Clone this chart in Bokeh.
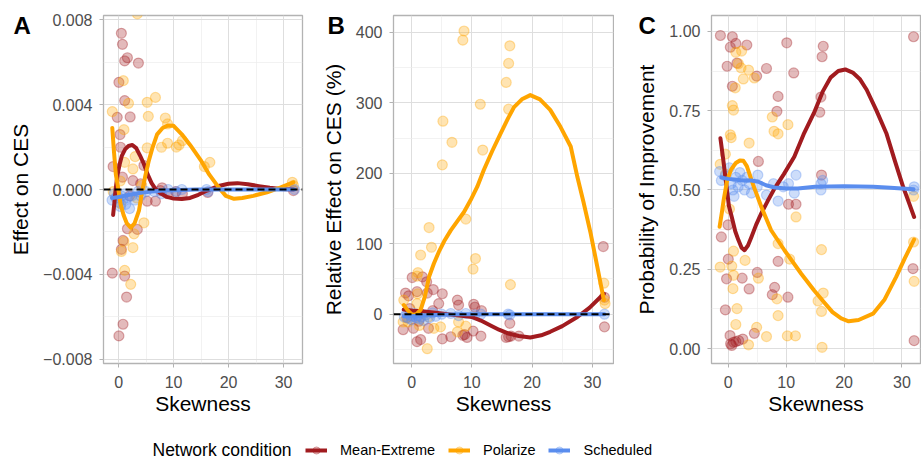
from bokeh.plotting import figure
from bokeh.models import Range1d, FixedTicker, Label, Legend, LegendItem, Span
from bokeh.layouts import column, row
from bokeh.embed import file_html
from bokeh.resources import INLINE

FONT = "Liberation Sans"
C_ME = "#A11B1F"
C_PO = "#FFA500"
C_SC = "#5A8DEE"
NAN = float("nan")

# ---------------- Panel A: Effect on CES ----------------
a_me_x = [0.5, 0.7, 1.6, 1.1, 3.6, 0.05, 1.1, -0.25, 2.1, 0.25, 0.35, -1.0, 4.6, 0.7, 2.6, 7.9, 4.0, 5.2, 6.7,
          1.6, 3.4, 0.5, 0.8, -1.15, 1.1, 1.45, 0.8, 0.05, 7.6, 8.9, 11.6, 16.2, 31.8, 10.4, 2.0]
a_me_y = [0.00736, 0.00684, 0.00621, 0.00606, 0.00596, 0.00505, 0.00419, 0.0034, 0.00342, 0.00259, 0.00199,
          0.00108, 0.00113, 0.00058, 0.00042, 0.00008, 0.00027, -0.00055, -0.00055, -0.00185, -0.00188,
          -0.00282, -0.0024, -0.00394, -0.00408, -0.00507, -0.00635, -0.0069, -0.00005, -0.0002, -0.0002,
          -0.00014, -0.00005, -0.0001, -0.0003]
a_po_x = [3.4, 0.85, 1.8, -1.15, 5.2, 6.7, 5.4, 8.5, 8.9, 0.97, 3.0, 5.2, 7.8, 8.9, 10.5, 11.6, 11.0, 2.6, 1.1,
          15.6, 16.6, 31.6, 31.8, 4.6, 2.8, 0.97, 0.5, 2.6, 1.1, 2.2, 0.36, -1.0, 3.3, 0.3, 4.2]
a_po_y = [0.00828, 0.00513, 0.00406, 0.00367, 0.00411, 0.00434, 0.00345, 0.00337, 0.00309, 0.00282, 0.00155,
          0.00196, 0.00199, 0.00218, 0.0020, 0.0023, 0.0021, 0.00097, 0.00128, 0.00108, 0.00128, 0.00034,
          0.00019, -0.00157, -0.00209, -0.00245, -0.00292, -0.00274, -0.00381, -0.00447, -0.00067, -0.0001,
          -0.0004, 0.0004, 0.0002]
a_sc_x = [-1.2, -0.8, -0.5, -0.2, 0.0, 0.3, 0.5, 0.8, 1.0, 1.3, 1.6, 2.0, 2.4, 3.0, 3.5, 4.0, 5.0, 6.5, 7.8,
          9.0, 10.5, 11.5, 16.0, 16.3, 32.0]
a_sc_y = [-0.0005, -0.0002, -0.0004, -0.0003, -0.0006, -0.0008, -0.0003, -0.0005, -0.0002, -0.0007, -0.0004,
          -0.0009, -0.0003, -0.0005, -0.0001, -0.0003, -0.0001, -0.0001, -0.0002, 0.0, -0.0001, 0.0, 0.0,
          -0.0001, 0.0]
a_me_sx = [-1.0, -0.8, -0.55, -0.2, 0.2, 0.6, 1.2, 1.8, 2.5, 3.2, 3.9, 4.6, 5.3, 6.0, 6.7, 7.6, 8.8, 10.0,
           11.5, 13.0, 14.5, 16.1, 18.0, 20.0, 21.6, 23.5, 25.5, 27.5, 29.5, 31.8]
a_me_sy = [-0.0012, -0.0007, 0.0, 0.0007, 0.0012, 0.0016, 0.0019, 0.00205, 0.0021, 0.00195, 0.0016, 0.0012,
           0.0007, 0.0003, 0.00003, -0.00018, -0.00035, -0.00043, -0.00045, -0.0004, -0.00025, -0.00005,
           0.00015, 0.00027, 0.0003, 0.00025, 0.00016, 0.00008, 0.00002, 0.0]
a_po_sx = [-1.15, -0.85, -0.5, -0.1, 0.36, 0.9, 1.5, 2.2, 2.9, 3.7, 4.3, 4.9, 5.5, 6.2, 7.0, 8.0, 9.0, 10.0,
           11.5, 13.0, 14.9, 16.5, 18.2, 19.5, 21.0, 22.5, 24.5, 27.0, 29.5, 31.8]
a_po_sy = [0.0029, 0.0018, 0.0007, 0.0001, -0.0007, -0.0012, -0.0016, -0.0018, -0.0016, -0.001, -0.00005,
           0.0007, 0.00136, 0.002, 0.0026, 0.0029, 0.00302, 0.0030, 0.0026, 0.0021, 0.0014, 0.0007, 0.0001,
           -0.0003, -0.00044, -0.0004, -0.0003, -0.00013, 0.0001, 0.00034]
a_sc_sx = [-1.2, 0.0, 1.0, 2.0, 3.0, 4.0, 6.0, 8.0, 10.0, 14.0, 20.0, 26.0, 32.0]
a_sc_sy = [-0.0004, -0.00035, -0.0003, -0.00025, -0.0002, -0.00015, -0.0001, -0.00005, -0.00003, 0.0, 0.0,
           0.0, 0.0]

# ---------------- Panel B: Relative Effect on CES (%) ----------------
b_me_x = [31.8, 32.0, 32.0, 0.1, 1.8, 2.5, 3.6, 5.1, 7.6, 7.8, 10.3, 10.5, 11.6, 16.3, 16.1, 16.5, 15.7, 17.8,
          5.1, 6.5, 8.5, 8.8, 10.2, 11.5, 0.9, 1.5, -1.4, -1.0, -0.5, 0.9, 2.6, 4.5, 0.3, 9.2, -0.3, 1.2, 2.8,
          3.5, -0.8]
b_me_y = [96, 24, -18, 52, 53, 46, 35, 29, 20, 13, 14, 10, 5, -13, -32, -31, -33, -31, -35, -32, -30, -29,
          -24, -31, -39, -36, -22, 30, 26, 32, 30, 15, -20, -33, 8, -10, -20, 5, -5]
b_po_x = [8.7, 8.5, 16.3, 16.1, 15.7, 11.4, 16.1, 5.2, 6.7, 11.8, 5.1, 9.0, 2.9, 3.3, 1.5, 10.6, 10.2, 1.05,
          0.9, 16.4, 31.9, 32.0, -1.3, 1.0, 7.6, 9.0, 2.6, 3.7, 1.3, -0.6, 2.8, 7.8, 4.8, 0.9, -1.4, 32.1]
b_po_y = [402, 389, 381, 356, 329, 298, 291, 274, 244, 233, 212, 135, 123, 95, 84, 79, 64, 59, 54, 42, 44, 20,
          20, 29, -25, -17, -49, -20, -16, -11, -4, -11, -18, 15, -11, 15]
b_sc_x = [-1.2, -0.8, -0.5, -0.2, 0.0, 0.3, 0.5, 0.8, 1.0, 1.3, 1.6, 2.0, 2.4, 3.0, 3.5, 4.0, 5.0, 6.5, 7.8,
          9.0, 10.5, 11.5, 16.0, 16.3, 32.0]
b_sc_y = [-4, 2, -6, -2, -8, -3, 1, -5, -2, -7, -4, -9, -1, -5, 2, -3, 0, 1, -2, 1, -1, 0, 0, -1, 0]
b_me_sx = [-1.3, 0.2, 2.0, 4.0, 6.0, 8.0, 10.0, 11.5, 13.1, 14.5, 15.9, 17.8, 19.7, 21.5, 23.0, 25.0, 27.5,
           29.5, 31.9]
b_me_sy = [6.6, 5, 4, 2, 0, -2, -4, -9, -16, -22, -27, -31, -33, -30, -25, -17, -4, 9, 29]
b_po_sx = [-1.3, -0.6, 0.1, 0.8, 1.5, 2.2, 2.9, 3.7, 4.5, 5.5, 6.5, 7.6, 8.7, 9.8, 10.9, 12.0, 13.4, 14.8,
           16.0, 17.0, 18.3, 19.7, 21.3, 23.0, 24.7, 26.4, 27.5, 28.5, 29.7, 30.8, 31.9]
b_po_sy = [13, 5, -1, 0, 6, 25, 53, 72, 88, 105, 119, 132, 145, 162, 181, 205, 232, 257, 278, 294, 305, 311,
           305, 290, 266, 238, 195, 160, 115, 68, 20]
b_sc_sx = [-1.3, 0.0, 2.0, 4.0, 8.0, 12.0, 16.0, 20.0, 26.0, 32.0]
b_sc_sy = [-3, -3, -2, -1, 0, 0, 0, 0, 0, 0]

# ---------------- Panel C: Probability of Improvement ----------------
c_me_x = [-1.36, 0.7, 0.35, 1.3, 3.2, -0.2, 1.5, 4.9, 6.6, 10.1, 11.3, 0.7, 8.6, 8.4, 16.4, 16.2, 16.0, 15.8,
          16.1, 5.2, 32.0, 10.4, 11.7, -1.2, -0.05, 0.0, -0.3, 2.4, 5.0, 3.6, 8.6, 8.0, 7.6, 10.3, -0.5, 0.3,
          0.4, 0.9, 1.3, 1.8, 2.5, 0.6, 4.5, 31.9, 32.1]
c_me_y = [0.987, 0.983, 0.95, 0.962, 0.957, 0.89, 0.90, 0.859, 0.883, 0.964, 0.869, 0.827, 0.795, 0.748,
          0.953, 0.92, 0.793, 0.745, 0.547, 0.59, 0.983, 0.455, 0.455, 0.352, 0.39, 0.282, 0.22, 0.222, 0.24,
          0.188, 0.275, 0.193, 0.17, 0.162, 0.122, 0.041, 0.015, 0.02, 0.022, 0.025, 0.03, 0.01, 0.048, 0.252,
          0.025]
c_po_x = [1.3, 2.3, 1.75, 2.2, 3.5, 2.6, 4.5, 1.2, 0.7, 0.9, 0.35, 0.5, 3.6, 7.6, 7.9, 8.6, 10.3, -0.5, -1.4,
          -0.5, -1.4, 0.6, 0.9, 2.9, 0.9, 5.2, 0.8, 1.5, 1.3, 4.9, 3.5, 8.6, 10.6, 11.7, 8.4, 8.6, 6.6, 10.2,
          11.6, 16.1, 16.4, 15.5, 16.1, 16.2, 32.0, 32.1, 32.0, 0.2]
c_po_y = [0.934, 0.938, 0.898, 0.885, 0.878, 0.85, 0.853, 0.822, 0.766, 0.752, 0.674, 0.665, 0.648, 0.73,
          0.685, 0.677, 0.706, 0.613, 0.581, 0.55, 0.257, 0.26, 0.307, 0.278, 0.231, 0.222, 0.189, 0.126,
          0.076, 0.067, 0.012, 0.331, 0.282, 0.415, 0.157, 0.104, 0.038, 0.04, 0.04, 0.312, 0.175, 0.15,
          0.117, 0.004, 0.336, 0.212, 0.48, 0.44]
c_sc_x = [-1.5, -1.2, 0.2, -0.5, 0.5, 0.8, 1.0, 1.3, 1.7, 2.0, 2.4, 2.8, 3.2, 3.6, 4.0, 5.1, 5.0, 6.6, 7.8,
          8.6, 9.5, 10.4, 11.4, 11.7, 16.0, 16.0, 16.3, 32.0, 32.1]
c_sc_y = [0.558, 0.53, 0.57, 0.545, 0.52, 0.5, 0.48, 0.54, 0.51, 0.555, 0.53, 0.5, 0.54, 0.52, 0.49, 0.547,
          0.51, 0.484, 0.52, 0.465, 0.51, 0.52, 0.49, 0.547, 0.52, 0.50, 0.53, 0.5, 0.51]
c_me_sx = [-1.36, -0.9, -0.4, 0.1, 0.6, 1.2, 1.75, 2.3, 2.8, 3.4, 4.0, 4.8, 5.7, 6.8, 8.0, 9.6, 11.4, 13.0,
           14.8, 16.3, 17.7, 19.0, 20.2, 21.5, 22.7, 23.9, 25.6, 27.3, 28.8, 30.2, 31.2, 32.1]
c_me_sy = [0.663, 0.60, 0.525, 0.45, 0.415, 0.37, 0.342, 0.318, 0.31, 0.325, 0.352, 0.39, 0.426, 0.465,
           0.505, 0.55, 0.605, 0.675, 0.743, 0.81, 0.855, 0.875, 0.88, 0.87, 0.85, 0.816, 0.75, 0.679, 0.59,
           0.51, 0.46, 0.415]
c_po_sx = [-1.5, -1.1, -0.8, -0.2, 0.5, 1.3, 2.0, 2.6, 3.2, 4.3, 5.7, 7.4, 9.7, 12.6, 14.8, 16.5, 18.0,
           19.5, 20.8, 22.5, 25.0, 27.0, 29.0, 30.5, 32.1]
c_po_sy = [0.384, 0.43, 0.468, 0.53, 0.565, 0.585, 0.593, 0.592, 0.575, 0.516, 0.447, 0.373, 0.31, 0.236,
           0.184, 0.147, 0.115, 0.095, 0.086, 0.09, 0.11, 0.155, 0.226, 0.285, 0.344]
c_sc_sx = [-1.2, 0.0, 1.5, 2.5, 4.0, 5.2, 6.5, 8.0, 10.0, 12.0, 15.0, 20.0, 25.0, 28.0, 32.0]
c_sc_sy = [0.539, 0.535, 0.532, 0.53, 0.53, 0.526, 0.515, 0.508, 0.505, 0.505, 0.51, 0.512, 0.51, 0.507,
           0.502]

x_ticks = [0, 10, 20, 30]
x_minor = [5, 15, 25]
series_names = ["Mean-Extreme", "Polarize", "Scheduled"]
series_colors = [C_ME, C_PO, C_SC]
panel_tags = ["A", "B", "C"]

H = 425          # visible height of the panel row
TOP_EXTRA = 30   # extra top border (hidden by a negative margin) that hosts the panel tag
TOP = 15 + TOP_EXTRA


def make_panel(letter, tag_dx, ylabel, xr, yr, yticks, yminor, ylabels, pts, curves, hline, left, right):
    p = figure(width=307, height=H + TOP_EXTRA, x_range=Range1d(*xr), y_range=Range1d(*yr),
               output_backend="svg", toolbar_location=None,
               min_border_left=left, min_border_right=right, min_border_top=TOP, min_border_bottom=62)
    p.background_fill_color = "white"
    p.border_fill_color = "white"
    p.outline_line_color = "#B3B3B3"
    p.outline_line_width = 1.3

    p.xaxis.ticker = FixedTicker(ticks=x_ticks, minor_ticks=x_minor)
    p.yaxis.ticker = FixedTicker(ticks=yticks, minor_ticks=yminor)
    p.yaxis.major_label_overrides = {t: l for t, l in zip(yticks, ylabels)}
    p.xaxis.axis_label = "Skewness"
    p.yaxis.axis_label = ylabel
    for ax in (p.xaxis, p.yaxis):
        ax.axis_line_color = None
        ax.major_tick_line_color = "#B3B3B3"
        ax.major_tick_out = 4
        ax.major_tick_in = 0
        ax.minor_tick_line_color = None
        ax.major_label_text_font = FONT
        ax.major_label_text_font_size = "16px"
        ax.major_label_text_color = "#4D4D4D"
        ax.axis_label_text_font = FONT
        ax.axis_label_text_font_size = "21px"
        ax.axis_label_text_font_style = "normal"
        ax.axis_label_text_color = "black"
    p.xaxis.major_label_standoff = 8
    p.yaxis.major_label_standoff = 7
    p.xaxis.axis_label_standoff = 1
    p.yaxis.axis_label_standoff = 8
    for g in (p.xgrid, p.ygrid):
        g.grid_line_color = "#DEDEDE"
        g.grid_line_width = 1
        g.minor_grid_line_color = "#EDEDED"
        g.minor_grid_line_width = 0.7

    for (xs, ys), c in zip(pts, series_colors):
        p.scatter(xs, ys, size=10, fill_color=c, line_color=c, fill_alpha=0.3, line_alpha=0.35,
                  line_width=1.2)
    for (xs, ys), c in zip(curves, series_colors):
        p.line(xs, ys, line_color=c, line_width=4, line_join="round", line_cap="round")
    if hline:
        p.add_layout(Span(location=0, dimension="width", line_color="black", line_dash="7 4",
                          line_width=2))
    # panel tag in the (unclipped) top side panel
    p.add_layout(Label(x=tag_dx, y=-10, x_units="screen", y_units="screen", text=letter,
                       text_font=FONT, text_font_size="24px", text_font_style="bold",
                       text_color="black", text_baseline="alphabetic"), "above")
    return p


M = "\u2212"
pA = make_panel(panel_tags[0], 13 - 103, "Effect on CES", (-2.75, 33.45), (-0.0082, 0.0082),
                [-0.008, -0.004, 0.0, 0.004, 0.008], [-0.006, -0.002, 0.002, 0.006],
                [M + "0.008", M + "0.004", "0.000", "0.004", "0.008"],
                [(a_me_x, a_me_y), (a_po_x, a_po_y), (a_sc_x, a_sc_y)],
                [(a_me_sx, a_me_sy), (a_po_sx, a_po_sy), (a_sc_sx, a_sc_sy)], True, 103, 5)
pB = make_panel(panel_tags[1], 20 - 86, "Relative Effect on CES (%)", (-3.0, 33.5), (-70, 424),
                [0, 100, 200, 300, 400], [-50, 50, 150, 250, 350],
                ["0", "100", "200", "300", "400"],
                [(b_me_x, b_me_y), (b_po_x, b_po_y), (b_sc_x, b_sc_y)],
                [(b_me_sx, b_me_sy), (b_po_sx, b_po_sy), (b_sc_sx, b_sc_sy)], True, 86, 1)
pC = make_panel(panel_tags[2], 24 - 97, "Probability of Improvement", (-2.9, 33.2), (-0.047, 1.05),
                [0.0, 0.25, 0.5, 0.75, 1.0], [0.125, 0.375, 0.625, 0.875],
                ["0.00", "0.25", "0.50", "0.75", "1.00"],
                [(c_me_x, c_me_y), (c_po_x, c_po_y), (c_sc_x, c_sc_y)],
                [(c_me_sx, c_me_sy), (c_po_sx, c_po_sy), (c_sc_sx, c_sc_sy)], False, 97, 1)

# ---------------- Legend strip ----------------
LH = 462 - H
lg = figure(width=922, height=LH, x_range=Range1d(0, 922), y_range=Range1d(0, LH),
            output_backend="svg", toolbar_location=None, min_border=0)
lg.axis.visible = False
lg.grid.visible = False
lg.outline_line_color = None
items = []
for name, c in zip(series_names, series_colors):
    r1 = lg.line(x=[NAN], y=[NAN], line_color=c, line_width=4)
    r2 = lg.scatter(x=[NAN], y=[NAN], size=10, fill_color=c, line_color=c, fill_alpha=0.3, line_alpha=0.35)
    items.append(LegendItem(label=name, renderers=[r1, r2]))
leg = Legend(items=items, orientation="horizontal", location=(305, 3), padding=0, margin=0,
             spacing=13, glyph_width=22, glyph_height=18, label_standoff=13,
             label_text_font=FONT, label_text_font_size="14.5px", label_text_color="black",
             border_line_color=None, background_fill_alpha=0)
lg.add_layout(leg, "center")
lg.add_layout(Label(x=152, y=13, x_units="screen", y_units="screen", text="Network condition",
                    text_font=FONT, text_font_size="17.5px", text_color="black",
                    text_baseline="middle"))

top_row = row(pA, pB, pC, margin=(-TOP_EXTRA, 0, 0, 0))
layout = column(top_row, lg)
open("out.html", "w").write(file_html(layout, INLINE))
